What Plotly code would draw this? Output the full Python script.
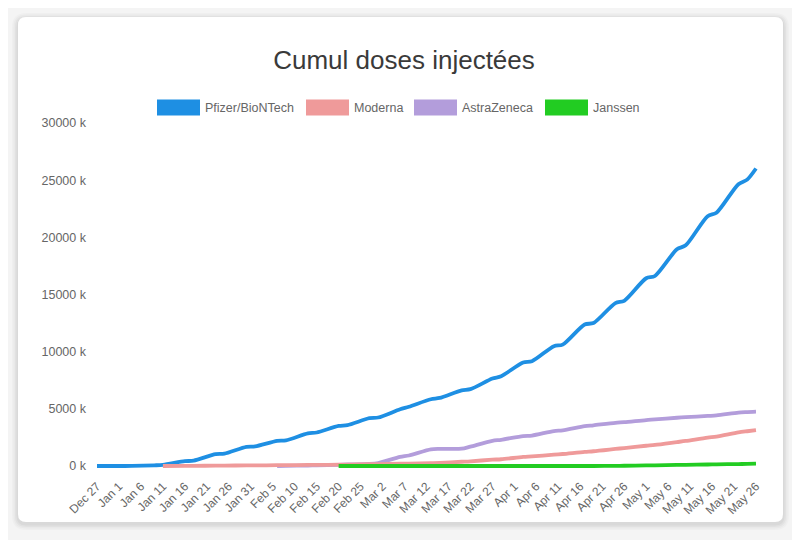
import plotly.graph_objects as go

# cumulative doses, thousands
dates = ["2020-12-27", "2021-01-02", "2021-01-04", "2021-01-09", "2021-01-11",
         "2021-01-16", "2021-01-18", "2021-01-23", "2021-01-25", "2021-01-30",
         "2021-02-01", "2021-02-06", "2021-02-08", "2021-02-13", "2021-02-15",
         "2021-02-20", "2021-02-22", "2021-02-27", "2021-03-01", "2021-03-06",
         "2021-03-08", "2021-03-13", "2021-03-15", "2021-03-20", "2021-03-22",
         "2021-03-27", "2021-03-29", "2021-04-03", "2021-04-05", "2021-04-10",
         "2021-04-12", "2021-04-17", "2021-04-19", "2021-04-24", "2021-04-26",
         "2021-05-01", "2021-05-03", "2021-05-08", "2021-05-10", "2021-05-15",
         "2021-05-17", "2021-05-22", "2021-05-24", "2021-05-26"]

pfizer = [0, 0, 5, 60, 100, 420, 470, 1030, 1080, 1680,
          1720, 2200, 2240, 2850, 2930, 3500, 3570, 4180, 4240, 4960,
          5180, 5840, 5950, 6620, 6720, 7650, 7850, 9050, 9160, 10480,
          10620, 12380, 12500, 14250, 14450, 16420, 16620, 18950, 19300, 21850,
          22150, 24650, 25050, 26020]

moderna = [None, None, None, None, 0, 10, 15, 30, 35, 50,
           55, 70, 75, 90, 95, 115, 125, 155, 165, 195,
           210, 255, 275, 370, 410, 550, 590, 790, 840, 990,
           1050, 1240, 1290, 1490, 1570, 1770, 1840, 2090, 2190, 2490,
           2570, 2940, 3040, 3130]

astrazeneca = [None, None, None, None, None, None, None, None, None, None,
               None, 0, 15, 40, 60, 100, 130, 180, 260, 790,
               920, 1460, 1500, 1510, 1700, 2200, 2290, 2620, 2660, 3060,
               3120, 3480, 3560, 3780, 3830, 4020, 4070, 4220, 4270, 4380,
               4420, 4670, 4720, 4760]

janssen = [None, None, None, None, None, None, None, None, None, None,
           None, None, None, None, None, 0, 0, 0, 0, 0,
           0, 0, 0, 0, 0, 0, 0, 0, 0, 0,
           0, 0, 0, 10, 20, 50, 60, 90, 100, 130,
           140, 170, 180, 200]

y_ticks = [0, 5000, 10000, 15000, 20000, 25000, 30000]
y_labels = ["0 k", "5000 k", "10000 k", "15000 k", "20000 k", "25000 k", "30000 k"]

names = ["Pfizer/BioNTech", "Moderna", "AstraZeneca", "Janssen"]
colors = ["#1e8fe3", "#ef9a9a", "#b39ddb", "#22cc22"]
series = [pfizer, moderna, astrazeneca, janssen]
draw_order = [0, 2, 1, 3]

# page has an 8px body margin, so the figure is offset by 8px
OFF = 8
W, H = 800 - OFF, 540 - OFF
L, R, T, B = 87, 42, 109, 68
pw, ph = W - L - R, H - T - B


def px(x):
    return (x - OFF - L) / pw


def py(y):
    return (H - B - (y - OFF)) / ph


def rounded(x0, y0, x1, y1, r):
    rx, ry = r / pw, r / ph
    a, b, c, d = px(x0), py(y1), px(x1), py(y0)
    return (f"M{a+rx},{b} L{c-rx},{b} Q{c},{b} {c},{b+ry} L{c},{d-ry} "
            f"Q{c},{d} {c-rx},{d} L{a+rx},{d} Q{a},{d} {a},{d-ry} "
            f"L{a},{b+ry} Q{a},{b} {a+rx},{b} Z")


fig = go.Figure()
for i in draw_order:
    fig.add_trace(go.Scatter(x=dates, y=series[i], mode="lines", name=names[i],
                             line=dict(color=colors[i], width=3.8, shape="spline", smoothing=0.8),
                             showlegend=False))

shapes = []
for i, op in enumerate([0.02, 0.025, 0.03, 0.035]):
    g = 6 - i * 1.5
    shapes.append(dict(type="path", xref="paper", yref="paper", layer="below",
                       path=rounded(18 - g, 17 - g + 2, 783 + g, 522 + g + 2, 8 + g),
                       fillcolor=f"rgba(0,0,0,{op})", line=dict(width=0)))
shapes.append(dict(type="path", xref="paper", yref="paper", layer="below",
                   path=rounded(18, 17, 783, 522, 8),
                   fillcolor="white", line=dict(width=0)))

# hand-made legend with wide swatches
swatch_x = [157, 306, 414, 545]
annotations = []
for sx, name, col in zip(swatch_x, names, colors):
    shapes.append(dict(type="rect", xref="paper", yref="paper",
                       x0=px(sx), x1=px(sx + 43), y0=py(115.5), y1=py(99.5),
                       fillcolor=col, line=dict(width=0)))
    annotations.append(dict(text=name, xref="paper", yref="paper", showarrow=False,
                            x=px(sx + 46), y=py(107.5), xanchor="left", yanchor="middle",
                            font=dict(size=12.5, color="#666666")))

fig.update_layout(
    width=W, height=H,
    margin=dict(l=L, r=R, t=T, b=B),
    paper_bgcolor="#f4f4f4",
    plot_bgcolor="rgba(0,0,0,0)",
    shapes=shapes,
    annotations=annotations,
    showlegend=False,
    font=dict(family="Liberation Sans, Arial", color="#666666", size=12),
    title=dict(text="Cumul doses injectées", x=0.5, xanchor="center",
               y=1 - (60 - OFF) / H, yanchor="middle",
               font=dict(family="Liberation Sans, Arial", size=26, color="#3a3a3a")),
    xaxis=dict(type="date", range=["2020-12-26 13:00", "2021-05-26 11:00"],
               tick0="2020-12-27", dtick=5 * 86400000, tickformat="%b %-d",
               tickangle=-45, showgrid=False, zeroline=False, showline=False,
               ticks="", ticklabelstandoff=4, tickfont=dict(size=12, color="#666666")),
    yaxis=dict(range=[-525, 30525], tickvals=y_ticks, ticktext=y_labels,
               showgrid=False, zeroline=False, showline=False, ticks="",
               ticklabelstandoff=8, tickfont=dict(size=12.5, color="#666666")),
)

fig.write_html("out.html")
